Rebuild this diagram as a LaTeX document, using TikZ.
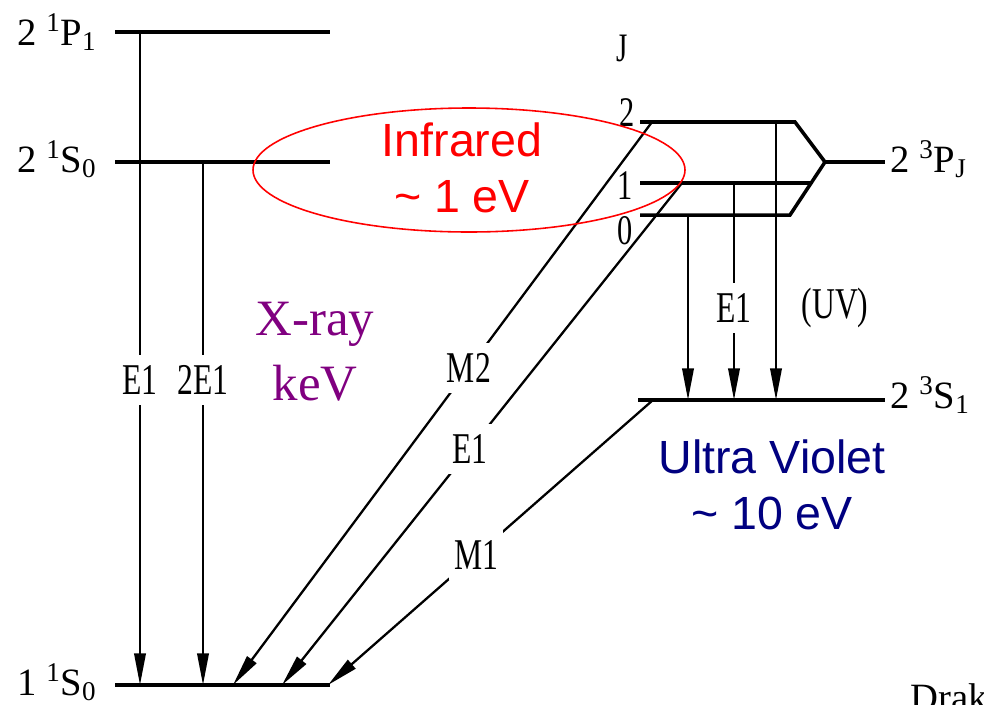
\documentclass[tikz,border=0pt]{standalone}
\usepackage{fontspec}
\setmainfont{Liberation Serif}
\newfontfamily\narrowserif{Liberation Serif}[FakeStretch=0.72]
\newfontfamily\arialfont{Liberation Sans}
\usetikzlibrary{arrows.meta}
\definecolor{xraypurple}{RGB}{128,0,128}
\definecolor{uvnavy}{RGB}{0,0,128}

\begin{document}
\begin{tikzpicture}[
    x=0.02cm, y=-0.02cm,
    >={Triangle[length=18pt,width=6.5pt]},
    lvl/.style={line width=2pt},
    trans/.style={->, line width=1.3pt},
    lbl/.style={fill=white, inner xsep=3pt, inner ysep=6pt,
                font=\narrowserif\fontsize{25}{27}\selectfont},
    term/.style={inner sep=0pt, font=\fontsize{22}{25}\selectfont},
    jval/.style={inner sep=0pt, font=\narrowserif\fontsize{24}{26}\selectfont},
    big/.style={align=center, font=\arialfont\fontsize{26.5}{32}\selectfont},
  ]
  \useasboundingbox (0,0) rectangle (984,704);

  % singlet levels
  \coordinate (P1a) at (115,32);  \coordinate (P1b) at (330,32);
  \coordinate (S0a) at (115,162); \coordinate (S0b) at (330,162);
  \coordinate (G0a) at (115,685); \coordinate (G0b) at (330,685);
  \draw[lvl] (P1a) -- (P1b);
  \draw[lvl] (S0a) -- (S0b);
  \draw[lvl, line width=2.6pt] (G0a) -- (G0b);
  \node[term, anchor=base east] (tP1) at (97,45) {2 \textsuperscript{1}P\textsubscript{1}};
  \node[term, anchor=base east] (tS0) at (97,172) {2 \textsuperscript{1}S\textsubscript{0}};
  \node[term, anchor=base east] (tG0) at (97,695) {1 \textsuperscript{1}S\textsubscript{0}};

  % triplet levels
  \coordinate (J2a) at (640,122); \coordinate (J2b) at (795,122);
  \coordinate (J1a) at (640,183); \coordinate (J1b) at (811,183);
  \coordinate (J0a) at (640,215); \coordinate (J0b) at (790,215);
  \coordinate (PJ) at (825,162);  \coordinate (PJe) at (885,162);
  \coordinate (S1a) at (638,400); \coordinate (S1b) at (885,400);
  \draw[lvl] (J2a) -- (J2b) -- (PJ) -- (J0b) -- (J0a);
  \draw[lvl] (J1a) -- (J1b);
  \draw[lvl] (PJ) -- (PJe);
  \draw[lvl] (S1a) -- (S1b);
  \node[term, anchor=base west] (tPJ) at (890,172) {2 \textsuperscript{3}P\textsubscript{J}};
  \node[term, anchor=base west] (tS1) at (890,408) {2 \textsuperscript{3}S\textsubscript{1}};
  \node[jval, font=\narrowserif\fontsize{23}{25}\selectfont] (jJ) at (622,48) {J};
  \node[jval] (j2) at (627,113) {2};
  \node[jval] (j1) at (625,186) {1};
  \node[jval] (j0) at (625,231) {0};

  % transitions to the ground state
  \coordinate (a1) at (140,32);  \coordinate (b1) at (140,685);
  \coordinate (a2) at (203,162); \coordinate (b2) at (203,685);
  \coordinate (a3) at (652,122); \coordinate (b3) at (233,685);
  \coordinate (a4) at (682,183); \coordinate (b4) at (282,685);
  \coordinate (a5) at (653,400); \coordinate (b5) at (328,685);
  \draw[trans] (a1) -- node[lbl, pos=0.533] (lE1) {E1} (b1);
  \draw[trans] (a2) -- node[lbl, pos=0.417] (l2E1) {2E1} (b2);
  \draw[trans] (a3) -- node[lbl, pos=0.437] (lM2) {M2} (b3);
  \draw[trans] (a4) -- node[lbl, pos=0.53] (lE1d) {E1} (b4);
  \draw[trans] (a5) -- node[lbl, pos=0.544] (lM1) {M1} (b5);

  % fine structure to 2 3S1
  \coordinate (c0) at (688,215); \coordinate (d0) at (688,400);
  \coordinate (c1) at (734,183); \coordinate (d1) at (734,400);
  \coordinate (c2) at (776,122); \coordinate (d2) at (776,400);
  \draw[trans] (c0) -- (d0);
  \draw[trans] (c1) -- node[lbl, pos=0.576] (lE1t) {E1} (d1);
  \draw[trans] (c2) -- (d2);
  \node[lbl, fill=none] (uv) at (835,308) {(UV)};

  % energy scales
  \draw[red, line width=0.9pt] (469,170) ellipse [x radius=216, y radius=62];
  \node[big, red] (ir) at (462,168) {Infrared\\\textasciitilde{} 1 eV};
  \node[big, uvnavy] (uvtxt) at (772,485) {Ultra Violet\\\textasciitilde{} 10 eV};
  \node[align=center, xraypurple, font=\fontsize{29}{37}\selectfont] (xray) at (315,352) {X-ray\\keV};

  \node[term, anchor=base west] (src) at (910,710) {Drak};
\end{tikzpicture}
\end{document}
